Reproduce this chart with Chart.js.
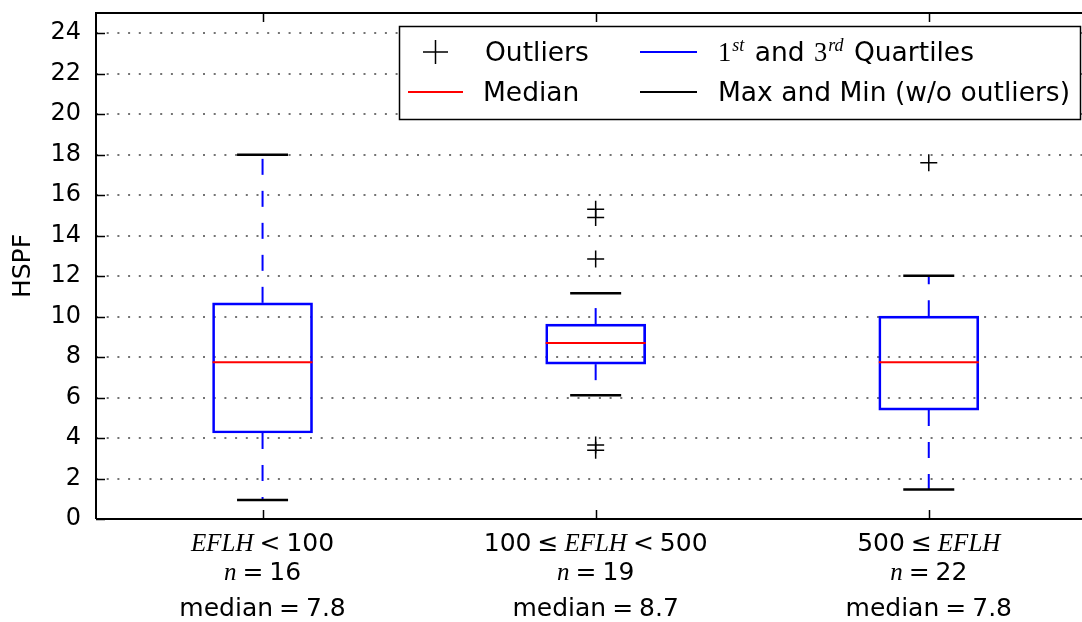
<!DOCTYPE html>
<html>
<head>
<meta charset="utf-8">
<title>HSPF by EFLH</title>
<script src="https://cdn.jsdelivr.net/npm/chart.js@4.4.1/dist/chart.umd.min.js"></script>
<style>
  html, body { margin: 0; padding: 0; background: #fff; overflow: hidden; }
</style>
</head>
<body>
<canvas id="hspfChart" width="1082" height="622"></canvas>
<script>
// Box positions (matplotlib style, one per group)
const positions = [1, 2, 3];

// Box statistics
const q1Values = [4.25, 7.65, 5.38];
const q3Values = [10.68, 9.63, 10.02];
const medianValues = [7.74, 8.69, 7.75];
const minValues = [0.94, 6.11, 1.46];
const maxValues = [18.0, 11.15, 12.02];
const outlierValues = [[], [15.3, 14.9, 12.85, 3.65, 3.4], [17.6]];

// Axis ticks
const yTicks = [0, 2, 4, 6, 8, 10, 12, 14, 16, 18, 20, 22, 24];

// Category label parts: [text, style]
const rangeLabels = [
  [['EFLH', 'it'], ['<', 'sym'], ['100', 'sans']],
  [['100', 'sans'], ['\u2264', 'sym'], ['EFLH', 'it'], ['<', 'sym'], ['500', 'sans']],
  [['500', 'sans'], ['\u2264', 'sym'], ['EFLH', 'it']]
];
const sampleSizes = ['16', '19', '22'];
const medianLabels = ['7.8', '8.7', '7.8'];

const BLUE = '#0000ff';
const RED = '#ff0000';

const fonts = {
  sans: '25px "DejaVu Sans"',
  sym: '25px "DejaVu Sans"',
  it: 'italic 25px "Liberation Serif"',
  legend: '26.5px "DejaVu Sans"',
  serif: '26.5px "Liberation Serif"',
  sup: 'italic 18px "Liberation Serif"'
};
const SYM_PAD = 6;

Chart.defaults.font.family = '"DejaVu Sans", sans-serif';
Chart.defaults.color = '#000';

// Draw a run of mixed-font text centred on cx
function drawRuns(ctx, runs, cx, baseline) {
  let total = 0;
  const widths = runs.map(([t, s]) => {
    ctx.font = fonts[s];
    const w = ctx.measureText(t).width + (s === 'sym' ? 2 * SYM_PAD : 0);
    total += w;
    return w;
  });
  let x = cx - total / 2;
  runs.forEach(([t, s], i) => {
    ctx.font = fonts[s];
    ctx.fillText(t, x + (s === 'sym' ? SYM_PAD : 0), baseline);
    x += widths[i];
  });
}

// Whisker segment from box edge to cap
function whisker(from, to, x) {
  return {
    type: 'line',
    data: [{x, y: from}, {x, y: to}],
    borderColor: BLUE,
    borderWidth: 2,
    borderDash: [16, 16],
    pointRadius: 0,
    fill: false,
    order: 3
  };
}

const whiskerSets = [];
positions.forEach((x, i) => {
  whiskerSets.push(whisker(q3Values[i], maxValues[i], x));
  whiskerSets.push(whisker(q1Values[i], minValues[i], x));
});

const capPoints = [];
positions.forEach((x, i) => {
  capPoints.push({x, y: maxValues[i]});
  capPoints.push({x, y: minValues[i]});
});

const outlierPoints = [];
positions.forEach((x, i) => {
  outlierValues[i].forEach(v => outlierPoints.push({x, y: v}));
});

// Spines, inward ticks, legend and category labels
const framePlugin = {
  id: 'frame',
  afterDatasetsDraw(chart) {
    const {ctx, chartArea: a, scales} = chart;
    ctx.save();
    ctx.strokeStyle = '#000';
    ctx.lineWidth = 2;
    ctx.beginPath();
    ctx.moveTo(a.left, a.bottom);
    ctx.lineTo(a.left, a.top);
    ctx.lineTo(a.right, a.top);
    ctx.moveTo(a.left, a.bottom);
    ctx.lineTo(a.right, a.bottom);
    ctx.stroke();

    // inward tick marks
    ctx.lineWidth = 1.5;
    ctx.beginPath();
    yTicks.forEach(v => {
      const y = Math.round(scales.y.getPixelForValue(v)) + 0.5;
      ctx.moveTo(a.left, y);
      ctx.lineTo(a.left + 9, y);
    });
    positions.forEach(p => {
      const x = Math.round(scales.x.getPixelForValue(p)) + 0.5;
      ctx.moveTo(x, a.bottom);
      ctx.lineTo(x, a.bottom - 9);
      ctx.moveTo(x, a.top);
      ctx.lineTo(x, a.top + 9);
    });
    ctx.stroke();
    ctx.restore();
  },
  afterDraw(chart) {
    const {ctx, chartArea: a, scales} = chart;
    ctx.save();
    ctx.fillStyle = '#000';
    ctx.textBaseline = 'alphabetic';

    // category labels
    positions.forEach((p, i) => {
      const cx = scales.x.getPixelForValue(p);
      drawRuns(ctx, rangeLabels[i], cx, a.bottom + 32);
      drawRuns(ctx, [['n', 'it'], ['=', 'sym'], [sampleSizes[i], 'sans']], cx, a.bottom + 61);
      drawRuns(ctx, [['median', 'sans'], ['=', 'sym'], [medianLabels[i], 'sans']], cx, a.bottom + 97);
    });

    // legend
    const lx = 399, ly = a.top + 13, lw = a.right - 2 - lx, lh = 93;
    ctx.fillStyle = '#fff';
    ctx.fillRect(lx, ly, lw, lh);
    ctx.strokeStyle = '#000';
    ctx.lineWidth = 1.5;
    ctx.strokeRect(lx + 0.5, ly + 0.5, lw, lh);

    const row1 = ly + 26, row2 = ly + 66;
    // outliers marker
    ctx.lineWidth = 1.5;
    ctx.beginPath();
    ctx.moveTo(423, row1); ctx.lineTo(448, row1);
    ctx.moveTo(435.5, row1 - 12); ctx.lineTo(435.5, row1 + 12);
    ctx.stroke();
    // median handle
    ctx.strokeStyle = RED;
    ctx.lineWidth = 2;
    ctx.beginPath(); ctx.moveTo(408, row2); ctx.lineTo(463, row2); ctx.stroke();
    // quartile handle
    ctx.strokeStyle = BLUE;
    ctx.beginPath(); ctx.moveTo(640, row1); ctx.lineTo(697, row1); ctx.stroke();
    // max/min handle
    ctx.strokeStyle = '#000';
    ctx.beginPath(); ctx.moveTo(640, row2); ctx.lineTo(697, row2); ctx.stroke();

    ctx.fillStyle = '#000';
    ctx.font = fonts.legend;
    ctx.fillText('Outliers', 485, row1 + 9);
    ctx.fillText('Median', 483, row2 + 9);
    ctx.fillText('Max and Min (w/o outliers)', 718, row2 + 9);

    let x = 718;
    const parts = [['1', 'serif', 0], ['st', 'sup', -10], [' and ', 'legend', 0], ['3', 'serif', 0], ['rd', 'sup', -10], [' Quartiles', 'legend', 0]];
    parts.forEach(([t, s, dy]) => {
      ctx.font = fonts[s];
      ctx.fillText(t, x, row1 + 9 + dy);
      x += ctx.measureText(t).width + (s === 'sup' ? 2 : 1);
    });
    ctx.restore();
  }
};

new Chart(document.getElementById('hspfChart'), {
  type: 'scatter',
  data: {
    datasets: [
      {
        label: 'Median',
        data: positions.map((x, i) => ({x, y: medianValues[i]})),
        pointStyle: 'line',
        pointRadius: 50,
        borderColor: RED,
        pointBorderColor: RED,
        borderWidth: 2,
        pointBorderWidth: 2,
        order: 0
      },
      {
        type: 'bar',
        label: 'Quartiles',
        data: positions.map((x, i) => ({x, y: [q1Values[i], q3Values[i]]})),
        backgroundColor: 'rgba(0,0,0,0)',
        borderColor: BLUE,
        borderWidth: 2,
        borderSkipped: false,
        barThickness: 100,
        order: 1
      },
      {
        label: 'Max and Min',
        data: capPoints,
        pointStyle: 'line',
        pointRadius: 25.5,
        borderColor: '#000',
        pointBorderColor: '#000',
        borderWidth: 2.5,
        pointBorderWidth: 2.5,
        order: 2
      },
      ...whiskerSets,
      {
        label: 'Outliers',
        data: outlierPoints,
        pointStyle: 'cross',
        pointRadius: 8.5,
        borderColor: '#000',
        pointBorderColor: '#000',
        borderWidth: 1.5,
        pointBorderWidth: 1.5,
        order: 4
      }
    ]
  },
  options: {
    responsive: false,
    animation: false,
    events: [],
    layout: { autoPadding: false, padding: { top: 13, right: 0, left: 0, bottom: 0 } },
    plugins: {
      legend: { display: false },
      tooltip: { enabled: false }
    },
    scales: {
      x: {
        type: 'linear',
        offset: false,
        min: 0.5,
        max: 3.46,
        afterBuildTicks: scale => { scale.ticks = positions.map(v => ({value: v})); },
        afterFit: scale => { scale.height = 103; scale.paddingLeft = 0; scale.paddingRight = 0; },
        ticks: { display: false },
        grid: { display: false, offset: false },
        border: { display: false }
      },
      y: {
        type: 'linear',
        min: 0,
        max: 25,
        afterBuildTicks: scale => { scale.ticks = yTicks.map(v => ({value: v})); },
        afterFit: scale => { scale.width = 96; scale.paddingTop = 0; scale.paddingBottom = 0; },
        ticks: {
          padding: 15,
          font: { size: 24 },
          color: '#000'
        },
        grid: {
          drawTicks: false,
          color: 'rgba(0,0,0,0.55)',
          lineWidth: 2
        },
        border: { display: false, dash: [2, 8.7] },
        title: {
          display: true,
          text: 'HSPF',
          font: { size: 25 },
          color: '#000',
          padding: { top: 8, bottom: 0 }
        }
      }
    }
  },
  plugins: [framePlugin]
});
</script>
</body>
</html>
